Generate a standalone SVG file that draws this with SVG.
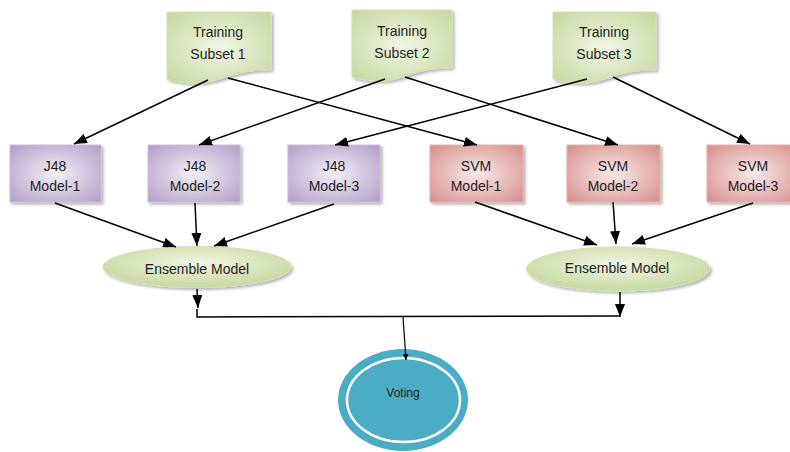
<svg xmlns="http://www.w3.org/2000/svg" width="790" height="452" viewBox="0 0 790 452">
<style>
text{font-family:"Liberation Sans",Arial,sans-serif;font-size:14px;fill:#1F1F1F;text-anchor:middle}
.ln{stroke:#000;stroke-width:1.5;fill:none}
.ar{marker-end:url(#ah)}
.ts{fill:url(#gG);stroke:#D3E1B5;stroke-width:1;filter:url(#sh)}
.j48{fill:url(#gP);stroke:#C9BDD9;stroke-width:1;filter:url(#sh)}
.svm{fill:url(#gR);stroke:#E2AFAE;stroke-width:1;filter:url(#sh)}
.ens{fill:url(#gE);stroke:#D3E1B5;stroke-width:1;filter:url(#sh)}
</style>
<defs>
<radialGradient id="gG" cx="0.5" cy="0.5" r="0.7"><stop offset="0" stop-color="#F1F6E6"/><stop offset="1" stop-color="#C4D79C"/></radialGradient>
<radialGradient id="gP" cx="0.5" cy="0.5" r="0.7"><stop offset="0" stop-color="#F3F0F7"/><stop offset="1" stop-color="#B09DC7"/></radialGradient>
<radialGradient id="gR" cx="0.5" cy="0.5" r="0.7"><stop offset="0" stop-color="#F8EAEA"/><stop offset="1" stop-color="#D68C8A"/></radialGradient>
<radialGradient id="gE" cx="0.5" cy="0.4" r="0.65"><stop offset="0" stop-color="#F0F5E3"/><stop offset="1" stop-color="#C2D699"/></radialGradient>
<filter id="sh" x="-10%" y="-10%" width="130%" height="130%"><feDropShadow dx="2" dy="2" stdDeviation="1.5" flood-color="#000" flood-opacity="0.3"/></filter>
<marker id="ah" markerWidth="13" markerHeight="10" refX="13" refY="5" orient="auto" markerUnits="userSpaceOnUse"><path d="M0,0 L13,5 L0,10 Z" fill="#000"/></marker>
<marker id="ahs" markerWidth="6" markerHeight="6" refX="6" refY="3" orient="auto" markerUnits="userSpaceOnUse"><path d="M0,0 L6,3 L0,6 Z" fill="#000"/></marker>
</defs>

<g id="ts1"><path class="ts" d="M167,12 H271 V69.7 C219,69.7 219,91.7 167,79.2 Z"/><text x="218" y="37">Training</text><text x="218" y="59">Subset 1</text></g>
<g id="ts2"><path class="ts" d="M352,10 H452 V67.7 C402,67.7 402,89.7 352,77.2 Z"/><text x="402" y="36">Training</text><text x="402" y="58">Subset 2</text></g>
<g id="ts3"><path class="ts" d="M553,12 H656 V69.7 C604.5,69.7 604.5,91.7 553,79.2 Z"/><text x="604" y="37">Training</text><text x="604" y="59">Subset 3</text></g>

<g id="j48-1"><rect class="j48" x="10" y="145" width="91" height="57"/><text x="55" y="171">J48</text><text x="55" y="191">Model-1</text></g>
<g id="j48-2"><rect class="j48" x="148" y="145" width="92" height="57"/><text x="195" y="171">J48</text><text x="195" y="191">Model-2</text></g>
<g id="j48-3"><rect class="j48" x="288" y="145" width="92" height="57"/><text x="334" y="171">J48</text><text x="334" y="191">Model-3</text></g>
<g id="svm-1"><rect class="svm" x="430" y="145" width="93" height="57"/><text x="476" y="171">SVM</text><text x="476" y="191">Model-1</text></g>
<g id="svm-2"><rect class="svm" x="567" y="145" width="93" height="57"/><text x="613" y="171">SVM</text><text x="613" y="191">Model-2</text></g>
<g id="svm-3"><rect class="svm" x="707" y="145" width="93" height="57"/><text x="753" y="171">SVM</text><text x="753" y="191">Model-3</text></g>

<g id="ens-1"><ellipse class="ens" cx="197" cy="267" rx="94" ry="20.5"/><text x="197" y="274">Ensemble Model</text></g>
<g id="ens-2"><ellipse class="ens" cx="618" cy="269" rx="91.5" ry="22"/><text x="617" y="273">Ensemble Model</text></g>

<g id="voting"><ellipse cx="403" cy="400" rx="65" ry="51" fill="#4BACC6"/><ellipse cx="403.5" cy="400" rx="56.5" ry="42" fill="none" stroke="#FFFFFF" stroke-width="2.5"/><text x="403" y="397" style="font-size:12px">Voting</text></g>

<g id="connectors">
<line class="ln ar" x1="208" y1="80" x2="74" y2="144"/>
<line class="ln ar" x1="228" y1="78" x2="477" y2="145"/>
<line class="ln ar" x1="385" y1="79" x2="199" y2="145"/>
<line class="ln ar" x1="405" y1="77" x2="618" y2="145"/>
<line class="ln ar" x1="587" y1="79" x2="335" y2="145"/>
<line class="ln ar" x1="613" y1="77" x2="750" y2="144"/>
<line class="ln ar" x1="55" y1="203" x2="176" y2="247"/>
<line class="ln ar" x1="195" y1="203" x2="197" y2="246"/>
<line class="ln ar" x1="334" y1="204" x2="214" y2="246"/>
<line class="ln ar" x1="475" y1="202" x2="597" y2="245"/>
<line class="ln ar" x1="613" y1="202" x2="616" y2="244"/>
<line class="ln ar" x1="753" y1="203" x2="632" y2="244"/>
<line class="ln ar" x1="197" y1="289" x2="198" y2="308"/>
<line class="ln ar" x1="620" y1="292" x2="620" y2="317"/>
<polyline class="ln" points="197,309 197,317 620,316"/>
<line x1="403" y1="317" x2="406" y2="360" stroke="#000" stroke-width="1.2" marker-end="url(#ahs)"/>
</g>
</svg>
